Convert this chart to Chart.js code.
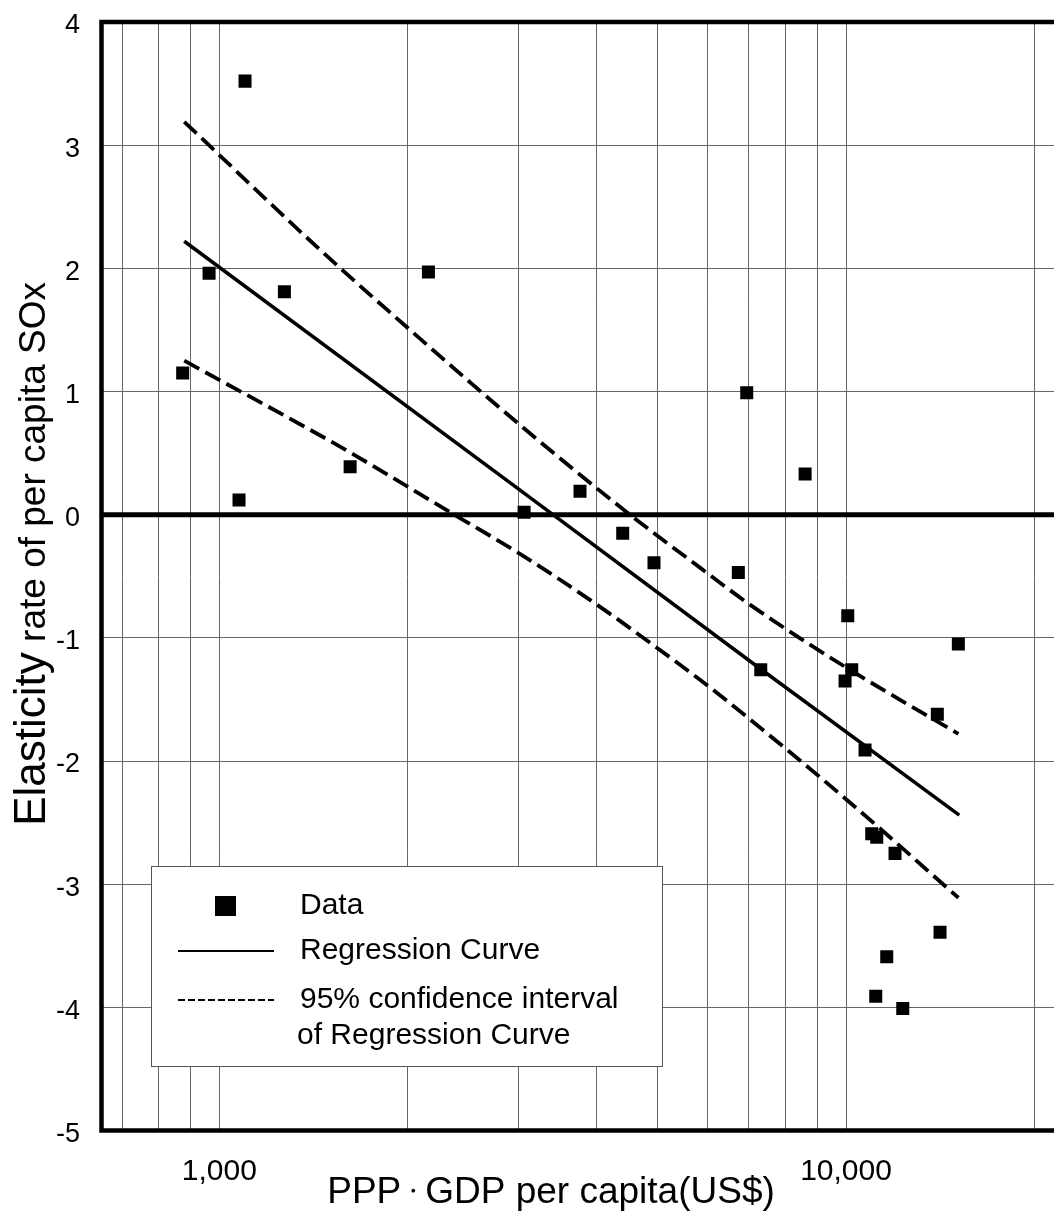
<!DOCTYPE html>
<html>
<head>
<meta charset="utf-8">
<script src="https://cdn.jsdelivr.net/npm/chart.js@4.4.1/dist/chart.umd.min.js"></script>
<style>
  html, body { margin: 0; padding: 0; background: #fff; overflow: hidden; }
  canvas { display: block; }
</style>
</head>
<body>
<canvas id="myChart" width="1054" height="1213"></canvas>
<script>
// ---------------- data ----------------
// data points : PPP GDP per capita (US$) / elasticity of per capita SOx
const gdpPerCapita = [874, 963, 1075, 1099, 1270, 1617, 2156, 3064, 3763, 4402, 4938, 6732, 6943, 7310,
                      8604, 10063, 9964, 10211, 10723, 10990, 11194, 11972, 11153, 11613, 12317, 13985, 14125, 15108];
const elasticity   = [1.15, 1.96, 0.12, 3.52, 1.81, 0.39, 1.97, 0.02, 0.19, -0.15, -0.39, -0.47, 0.99, -1.26,
                      0.33, -0.82, -1.35, -1.26, -1.91, -2.59, -2.62, -2.75, -3.91, -3.59, -4.01, -1.62, -3.39, -1.05];

// regression curve
const regGdp   = [879, 3000, 7030, 15160];
const regValue = [2.22, 0.21, -1.19, -2.44];

// 95% confidence interval (upper / lower)
const upperGdp   = [879, 1448, 2015, 2983, 4468, 5847, 7023, 10000, 15110];
const upperValue = [3.19, 2.15, 1.50, 0.75, 0.02, -0.43, -0.73, -1.24, -1.78];
const lowerGdp   = [879, 1361, 1636, 2334, 3000, 4002, 4989, 5847, 6452, 10000, 15110];
const lowerValue = [1.25, 0.72, 0.49, 0.02, -0.31, -0.73, -1.08, -1.34, -1.51, -2.31, -3.11];

// ticks
const xTickValues = [700, 800, 900, 1000, 2000, 3000, 4000, 5000, 6000, 7000, 8000, 9000, 10000, 20000];
const xTickLabels = { 1000: '1,000', 10000: '10,000' };
const yTickValues = [-5, -4, -3, -2, -1, 0, 1, 2, 3, 4];

const FONT = "'Liberation Sans', Arial, Helvetica, sans-serif";

function toPoints(xs, ys) {
  return xs.map((x, i) => ({ x: x, y: ys[i] }));
}

// frame, zero line, legend and axis titles
const framePlugin = {
  id: 'frame',
  beforeDatasetsDraw(chart) {
    const c = chart.ctx, a = chart.chartArea;
    const y0 = chart.scales.y.getPixelForValue(0);
    c.save();
    c.strokeStyle = '#000';
    c.lineWidth = 5;
    c.beginPath();
    c.moveTo(a.left, y0);
    c.lineTo(a.right, y0);
    c.stroke();
    c.restore();
  },
  afterDatasetsDraw(chart) {
    const c = chart.ctx, a = chart.chartArea;
    c.save();
    c.strokeStyle = '#000';
    c.lineWidth = 4.5;
    c.lineCap = 'square';
    c.beginPath();
    c.moveTo(a.right + 5, a.top);
    c.lineTo(a.left, a.top);
    c.lineTo(a.left, a.bottom);
    c.lineTo(a.right + 5, a.bottom);
    c.stroke();
    c.restore();
  },
  afterDraw(chart) {
    const c = chart.ctx;
    c.save();

    // legend box
    c.fillStyle = '#fff';
    c.fillRect(151, 866, 512, 201);
    c.strokeStyle = '#555';
    c.lineWidth = 1;
    c.strokeRect(151.5, 866.5, 511, 200);

    c.fillStyle = '#000';
    c.fillRect(215, 896, 21, 20);

    c.strokeStyle = '#000';
    c.lineWidth = 2;
    c.beginPath();
    c.moveTo(178, 951);
    c.lineTo(274, 951);
    c.stroke();

    c.setLineDash([7, 3]);
    c.beginPath();
    c.moveTo(178, 1000);
    c.lineTo(274, 1000);
    c.stroke();
    c.setLineDash([]);

    c.font = '30px ' + FONT;
    c.textAlign = 'left';
    c.textBaseline = 'middle';
    c.fillText('Data', 300, 906);
    c.fillText('Regression Curve', 300, 951);
    c.fillText('95% confidence interval', 300, 1000);
    c.fillText('of Regression Curve', 297, 1036);

    // x axis title : PPP・GDP per capita(US$)
    c.textBaseline = 'alphabetic';
    const big = '37px ' + FONT, small = '24px ' + FONT;
    const p1 = 'PPP', p2 = '・', p3 = 'GDP per capita(US$)';
    c.font = big;
    const w1 = c.measureText(p1).width, w3 = c.measureText(p3).width;
    c.font = small;
    const w2 = c.measureText(p2).width;
    let tx = 551 - (w1 + w2 + w3) / 2;
    c.font = big;
    c.fillText(p1, tx, 1203);
    c.font = small;
    c.fillText(p2, tx + w1, 1199);
    c.font = big;
    c.fillText(p3, tx + w1 + w2, 1203);

    // y axis title (rotated)
    c.translate(45, 282);
    c.rotate(-Math.PI / 2);
    c.textAlign = 'right';
    c.font = '37px ' + FONT;
    const rest = ' rate of per capita SOx';
    c.fillText(rest, 0, 0);
    const w = c.measureText(rest).width;
    c.font = '44px ' + FONT;
    c.fillText('Elasticity', -w, 0);

    c.restore();
  }
};

const ctx = document.getElementById('myChart');

new Chart(ctx, {
  type: 'scatter',
  data: {
    datasets: [
      {
        label: 'Data',
        data: toPoints(gdpPerCapita, elasticity),
        pointStyle: 'rect',
        pointRadius: 9.2,
        pointHoverRadius: 9.2,
        backgroundColor: '#000',
        borderWidth: 0,
        showLine: false
      },
      {
        label: 'Regression Curve',
        type: 'line',
        data: toPoints(regGdp, regValue),
        borderColor: '#000',
        borderWidth: 3.5,
        pointRadius: 0,
        fill: false
      },
      {
        label: '95% confidence interval (upper)',
        type: 'line',
        data: toPoints(upperGdp, upperValue),
        borderColor: '#000',
        borderWidth: 3.8,
        borderDash: [17, 7],
        pointRadius: 0,
        cubicInterpolationMode: 'monotone',
        fill: false
      },
      {
        label: '95% confidence interval (lower)',
        type: 'line',
        data: toPoints(lowerGdp, lowerValue),
        borderColor: '#000',
        borderWidth: 3.8,
        borderDash: [17, 7],
        pointRadius: 0,
        cubicInterpolationMode: 'monotone',
        fill: false
      }
    ]
  },
  options: {
    responsive: false,
    animation: false,
    events: [],
    layout: { autoPadding: false, padding: { top: 22, left: 0, right: 0, bottom: 0 } },
    plugins: {
      legend: { display: false },
      tooltip: { enabled: false }
    },
    scales: {
      x: {
        type: 'logarithmic',
        position: 'bottom',
        min: 648.6,
        max: 21470,
        afterBuildTicks: (scale) => { scale.ticks = xTickValues.map(v => ({ value: v })); },
        afterFit: (scale) => {
          scale.height = 82.5;
          scale.paddingLeft = 0;
          scale.paddingRight = 0;
        },
        grid: { color: '#666', lineWidth: 1, drawTicks: false },
        border: { display: false },
        ticks: {
          autoSkip: false,
          maxRotation: 0,
          padding: 0,
          color: '#000',
          // tall line box puts the label middle about 41px under the frame
          font: { family: FONT, size: 30, lineHeight: 2.76 },
          callback: (value) => xTickLabels[value] || ''
        }
      },
      y: {
        type: 'linear',
        position: 'left',
        min: -5,
        max: 4,
        afterBuildTicks: (scale) => { scale.ticks = yTickValues.map(v => ({ value: v })); },
        afterFit: (scale) => {
          scale.width = 101.5;
          scale.paddingTop = 0;
          scale.paddingBottom = 0;
        },
        grid: { color: '#666', lineWidth: 1, drawTicks: false },
        border: { display: false },
        ticks: {
          padding: 21.5,
          labelOffset: 4,
          color: '#000',
          font: { family: FONT, size: 27 },
          callback: (value) => String(value)
        }
      }
    }
  },
  plugins: [framePlugin]
});
</script>
</body>
</html>
